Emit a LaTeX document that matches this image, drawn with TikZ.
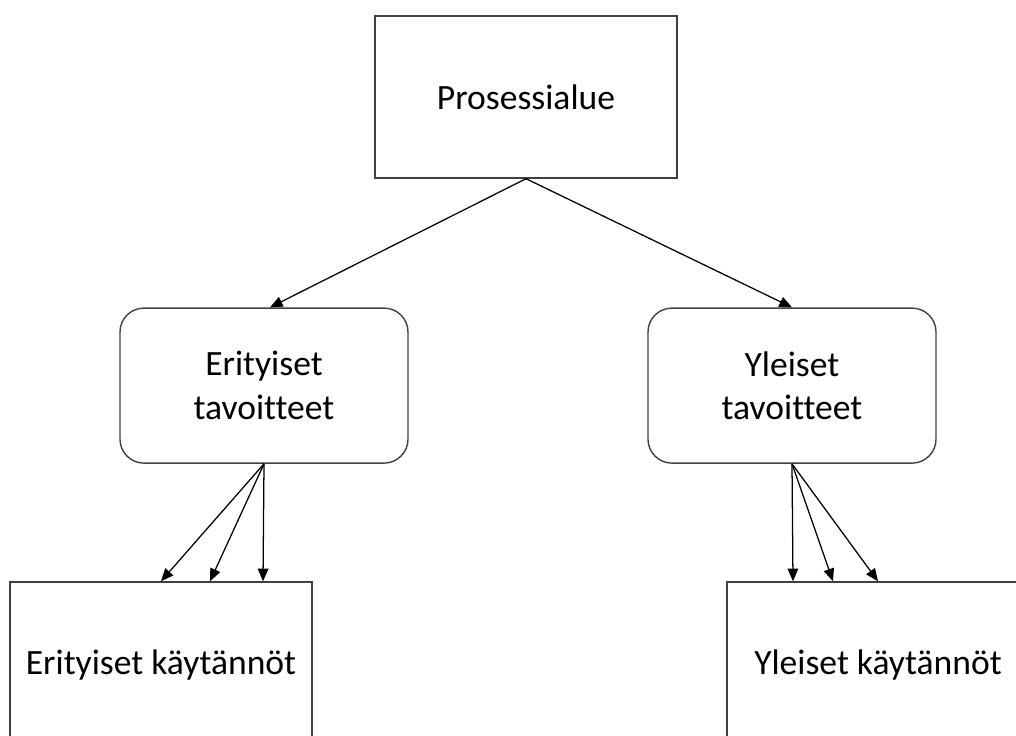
\documentclass[tikz,border=0pt]{standalone}
\usepackage{fontspec}
\setmainfont[Ligatures={NoCommon}]{Carlito}
\usetikzlibrary{arrows.meta}
\definecolor{edge}{HTML}{404040}

\begin{document}
\begin{tikzpicture}[>={Triangle[length=9pt,width=7.5pt]},
  font=\fontsize{25.3}{31}\selectfont,
  box/.style={draw=edge,line width=1pt,align=center,inner sep=0pt},
  rbox/.style={box,rounded corners=17pt},
  link/.style={->,line width=0.9pt}]
\useasboundingbox (0,0) rectangle (25.4,-18.4);
\clip (0,0) rectangle (25.4,-18.4);
\node[box,minimum width=7.55cm,minimum height=4.05cm] (pa) at (13.15,-2.425) {Prosessialue};

\node[rbox,minimum width=7.2cm,minimum height=3.875cm] (et) at (6.6,-9.64) {Erityiset\\tavoitteet};
\node[rbox,minimum width=7.2cm,minimum height=3.875cm] (yt) at (19.8,-9.64) {Yleiset\\tavoitteet};

\node[box,minimum width=7.55cm,minimum height=4.15cm] (ek) at (4.025,-16.625) {Erityiset käytännöt};
\node[box,minimum width=7.55cm,minimum height=4.15cm] (yk) at (21.95,-16.625) {Yleiset käytännöt};

\draw[link] (pa.south) -- ([xshift=0.15cm]et.north);
\draw[link] (pa.south) -- (yt.north);

\foreach \dx in {0,1.225,2.55}
  \draw[link] (et.south) -- ([xshift=\dx cm]ek.north);
\foreach \dx in {0,-1.125,-2.125}
  \draw[link] (yt.south) -- ([xshift=\dx cm]yk.north);
\end{tikzpicture}
\end{document}
